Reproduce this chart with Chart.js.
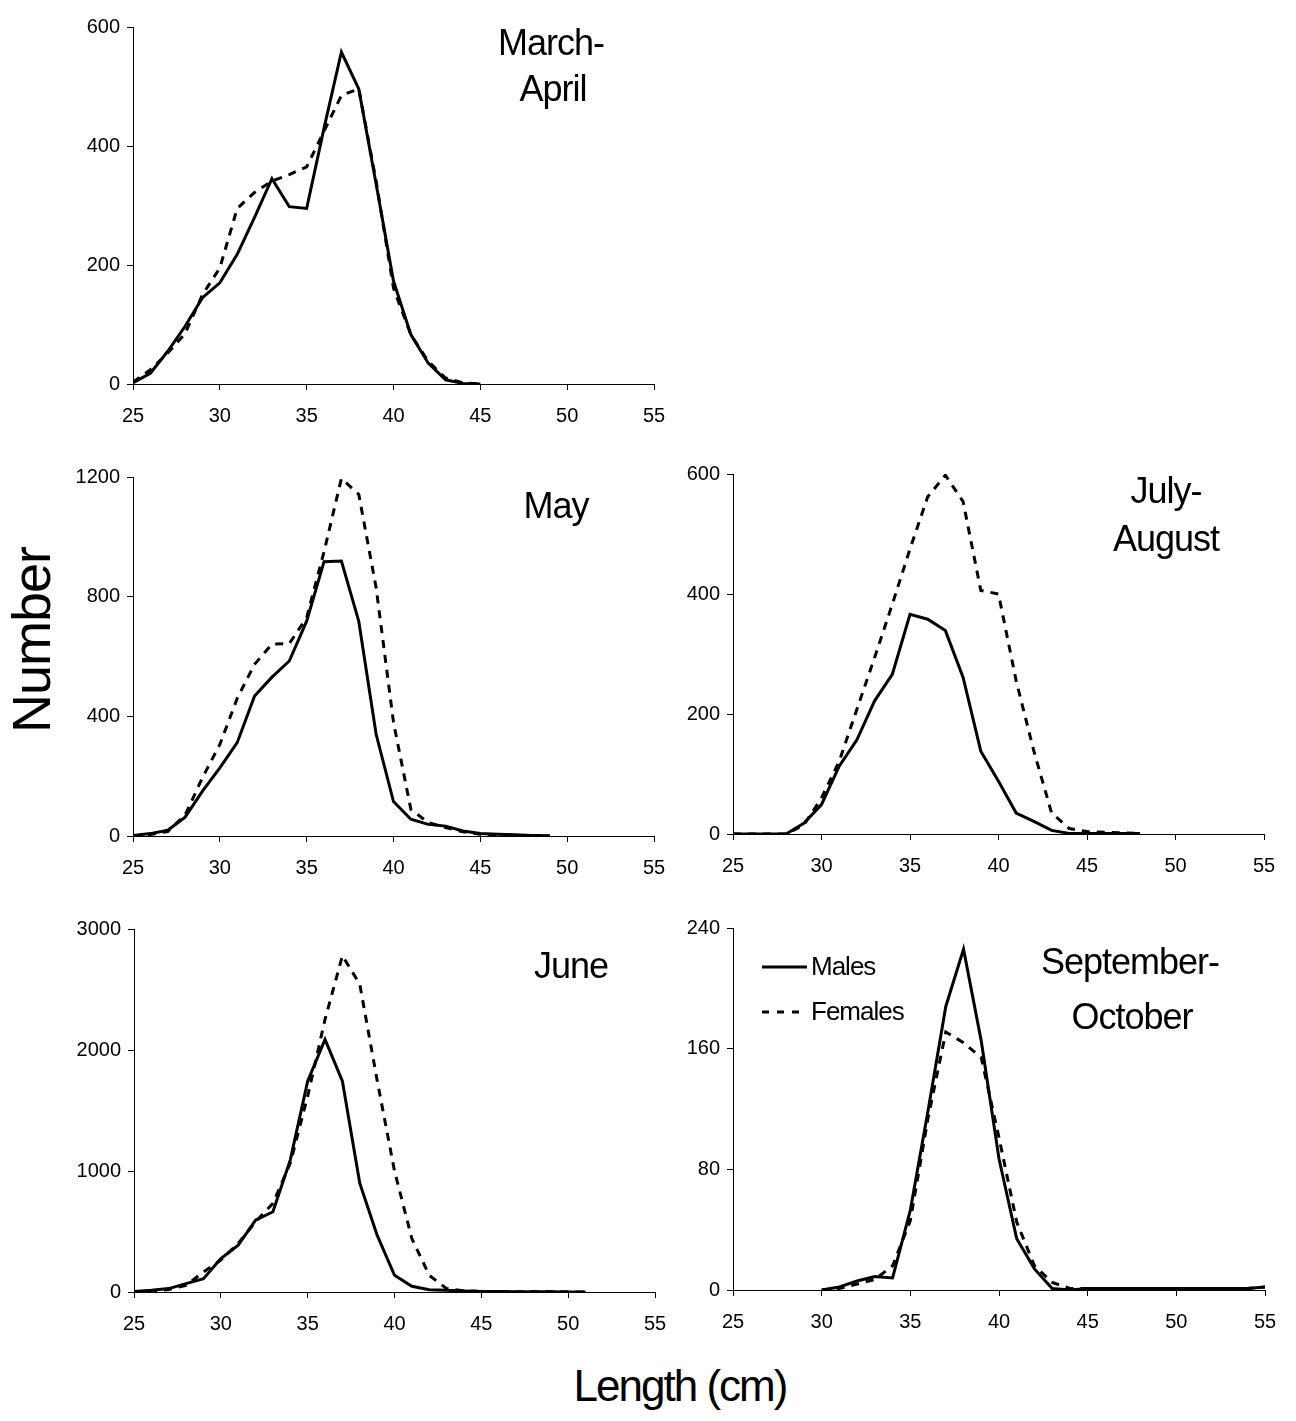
<!DOCTYPE html>
<html>
<head>
<meta charset="utf-8">
<script src="https://cdn.jsdelivr.net/npm/chart.js@4.4.1/dist/chart.umd.min.js"></script>
<style>
  body { margin: 0; background: #fff; width: 1296px; height: 1421px; position: relative; overflow: hidden; }
  canvas { position: absolute; }
  .axis-title { position: absolute; font-family: 'Liberation Sans', Arial, sans-serif; color: #000; white-space: nowrap; }
  #ytitle { left: 31px; top: 640px; font-size: 54px; letter-spacing: -1px; transform: translate(-50%, -50%) rotate(-90deg); }
  #xtitle { left: 680px; top: 1386px; font-size: 44px; letter-spacing: -2px; transform: translate(-50%, -50%); }
</style>
</head>
<body>
<canvas id="c1"></canvas>
<canvas id="c2"></canvas>
<canvas id="c3"></canvas>
<canvas id="c4"></canvas>
<canvas id="c5"></canvas>
<div class="axis-title" id="ytitle">Number</div>
<div class="axis-title" id="xtitle">Length (cm)</div>
<script>
// length classes (cm) and counts
const lengthsMarApr = [25,26,27,28,29,30,31,32,33,34,35,36,37,38,39,40,41,42,43,44,45];
const malesMarApr   = [2,18,55,97,145,170,218,280,345,298,295,430,558,496,336,173,83,35,7,1,0];
const femalesMarApr = [3,24,52,85,150,195,295,322,341,352,365,425,485,496,341,161,83,38,10,2,0];

const lengthsMay = [25,26,27,28,29,30,31,32,33,34,35,36,37,38,39,40,41,42,43,44,45,46,47,48,49];
const malesMay   = [2,8,19,63,150,228,312,468,531,585,718,917,919,718,340,115,56,39,33,17,8,6,4,2,1];
const femalesMay = [0,5,15,70,195,306,460,574,641,643,730,950,1195,1142,830,380,89,45,28,14,6,4,2,1,0];

const lengthsJulAug = [25,26,27,28,29,30,31,32,33,34,35,36,37,38,39,40,41,42,43,44,45,46,47,48];
const malesJulAug   = [0,0,0,0,18,49,113,157,222,266,366,358,339,261,138,88,35,21,6,1,1,1,1,1];
const femalesJulAug = [0,0,0,0,15,60,121,208,294,383,475,562,598,554,406,400,255,138,35,9,4,3,2,1];

const lengthsJune = [25,26,27,28,29,30,31,32,33,34,35,36,37,38,39,40,41,42,43,44,45,46,47,48,49,50,51];
const malesJune   = [5,14,28,69,110,276,387,594,663,1092,1742,2088,1742,899,470,138,47,19,14,8,5,4,3,2,2,1,1];
const femalesJune = [0,10,20,55,166,263,401,580,733,1065,1618,2253,2779,2544,1750,1000,442,138,28,10,5,4,3,3,2,1,1];

const lengthsSepOct = [30,31,32,33,34,35,36,37,38,39,40,41,42,43,44,45,46,47,48,49,50,51,52,53,54,55];
const malesSepOct   = [0,2,6,9,8,53,119,188,226,165,87,34,14,1,0,1,1,1,1,1,1,1,1,1,1,2];
const femalesSepOct = [0,1,4,7,16,46,114,171,164,154,101,45,16,5,1,1,1,1,1,1,1,1,1,1,1,2];

const xTicks = [25, 30, 35, 40, 45, 50, 55];

const FONT = "'Liberation Sans', Arial, sans-serif";
const YW = 70, XH = 50, PT = 20, PR = 30;

// draws the period label and (optionally) the legend inside the plot
const panelText = {
  id: 'panelText',
  afterDraw(chart, args, opts) {
    const ctx = chart.ctx, a = chart.chartArea;
    ctx.save();
    ctx.fillStyle = '#000';
    ctx.textBaseline = 'alphabetic';
    (opts.lines || []).forEach(t => {
      ctx.font = `${t.size || 36}px ${FONT}`;
      ctx.letterSpacing = (t.spacing != null ? t.spacing : -1) + 'px';
      ctx.textAlign = t.align || 'center';
      ctx.fillText(t.text, a.left + t.x, a.top + t.y);
    });
    (opts.legend || []).forEach(l => {
      ctx.strokeStyle = '#000';
      ctx.lineWidth = 3;
      ctx.setLineDash(l.dash);
      ctx.beginPath();
      ctx.moveTo(a.left + l.x, a.top + l.y);
      ctx.lineTo(a.left + l.x + 45, a.top + l.y);
      ctx.stroke();
      ctx.setLineDash([]);
      ctx.font = `26px ${FONT}`;
      ctx.letterSpacing = '-1px';
      ctx.textAlign = 'left';
      ctx.fillText(l.text, a.left + l.x + 49, a.top + l.y + 8);
    });
    ctx.restore();
  }
};

function makePanel(id, box, lengths, males, females, yMax, yStep, lines, legend) {
  const el = document.getElementById(id);
  const w = YW + box.w + PR, h = PT + box.h + XH;
  el.style.left = (box.left - YW) + 'px';
  el.style.top = (box.top - PT) + 'px';
  el.width = w; el.height = h;
  el.style.width = w + 'px'; el.style.height = h + 'px';

  new Chart(el, {
    type: 'line',
    data: {
      datasets: [
        { label: 'Males', data: lengths.map((x, i) => ({ x, y: males[i] })),
          borderColor: '#000', borderWidth: 3, pointRadius: 0, tension: 0 },
        { label: 'Females', data: lengths.map((x, i) => ({ x, y: females[i] })),
          borderColor: '#000', borderWidth: 3, borderDash: [8, 7], pointRadius: 0, tension: 0 }
      ]
    },
    options: {
      responsive: false,
      animation: false,
      layout: { padding: { top: PT, right: PR, left: 0, bottom: 0 } },
      plugins: {
        legend: { display: false },
        tooltip: { enabled: false },
        panelText: { lines, legend }
      },
      scales: {
        x: {
          type: 'linear', min: 25, max: 55,
          afterBuildTicks: s => { s.ticks = xTicks.map(v => ({ value: v })); },
          afterFit: s => { s.height = XH; },
          border: { display: true, color: '#000', width: 1 },
          grid: { drawOnChartArea: false, drawTicks: true, tickLength: 6, color: '#000' },
          ticks: { color: '#000', font: { family: FONT, size: 20 }, padding: 14, maxRotation: 0,
                   callback: v => String(v) }
        },
        y: {
          min: 0, max: yMax,
          afterFit: s => { s.width = YW; },
          border: { display: true, color: '#000', width: 1 },
          grid: { drawOnChartArea: false, drawTicks: true, tickLength: 6, color: '#000' },
          ticks: { stepSize: yStep, color: '#000', font: { family: FONT, size: 20 }, padding: 7,
                   callback: v => String(v) }
        }
      }
    },
    plugins: [panelText]
  });
}

makePanel('c1', { left: 133, top: 27, w: 521, h: 357 }, lengthsMarApr, malesMarApr, femalesMarApr, 600, 200,
  [{ text: 'March-', x: 418, y: 28 }, { text: 'April', x: 420, y: 74 }]);
makePanel('c2', { left: 133, top: 477, w: 521, h: 359 }, lengthsMay, malesMay, femalesMay, 1200, 400,
  [{ text: 'May', x: 423, y: 41 }]);
makePanel('c3', { left: 733, top: 474, w: 531, h: 360 }, lengthsJulAug, malesJulAug, femalesJulAug, 600, 200,
  [{ text: 'July-', x: 433, y: 29 }, { text: 'August', x: 433, y: 77 }]);
makePanel('c4', { left: 134, top: 929, w: 521, h: 363 }, lengthsJune, malesJune, femalesJune, 3000, 1000,
  [{ text: 'June', x: 437, y: 49 }]);
makePanel('c5', { left: 733, top: 928, w: 532, h: 362 }, lengthsSepOct, malesSepOct, femalesSepOct, 240, 80,
  [{ text: 'September-', x: 397, y: 46 }, { text: 'October', x: 399, y: 101 }],
  [{ text: 'Males', x: 29, y: 39, dash: [] }, { text: 'Females', x: 29, y: 84, dash: [7, 8] }]);
</script>
</body>
</html>
